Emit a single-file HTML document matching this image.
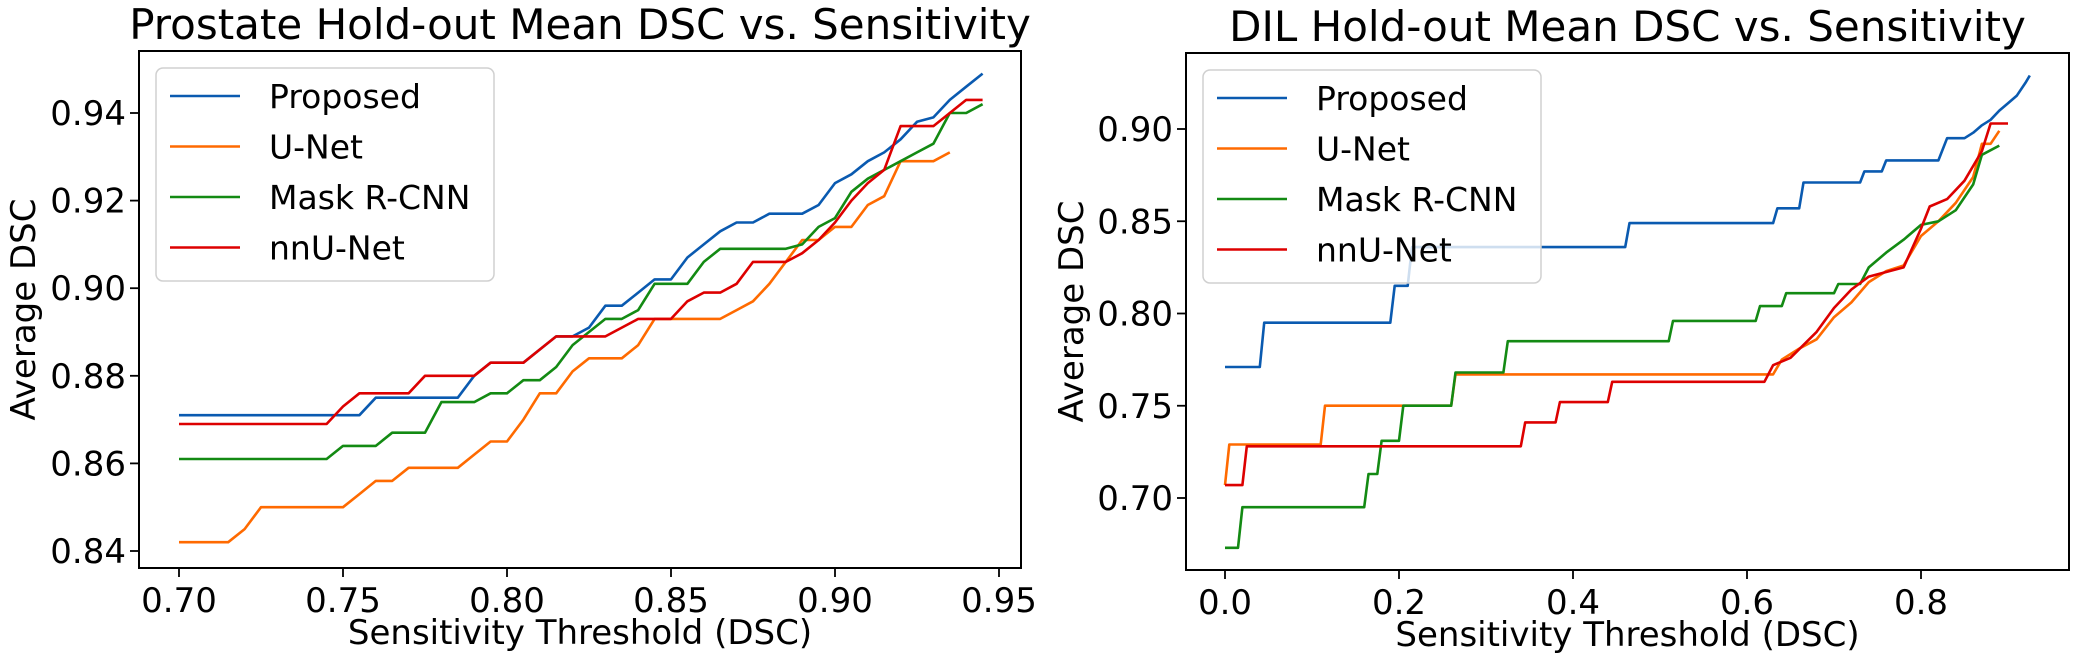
<!DOCTYPE html>
<html><head><meta charset="utf-8"><style>
html,body{margin:0;padding:0;background:#fff;}
svg{display:block;font-family:"DejaVu Sans","Liberation Sans",sans-serif;}
</style></head><body>
<svg id="c" width="2082" height="656" viewBox="0 0 2082 656"></svg>
<script>
// ---------- Left chart data ----------
const leftX = [];
for (let i = 0; i <= 49; i++) leftX.push(+(0.70 + i*0.005).toFixed(3));
const leftProposed = [0.871,0.871,0.871,0.871,0.871,0.871,0.871,0.871,0.871,0.871,0.871,0.871,0.875,0.875,0.875,0.875,0.875,0.875,0.880,0.883,0.883,0.883,0.886,0.889,0.889,0.891,0.896,0.896,0.899,0.902,0.902,0.907,0.910,0.913,0.915,0.915,0.917,0.917,0.917,0.919,0.924,0.926,0.929,0.931,0.934,0.938,0.939,0.943,0.946,0.949];
const leftUNet = [0.842,0.842,0.842,0.842,0.845,0.850,0.850,0.850,0.850,0.850,0.850,0.853,0.856,0.856,0.859,0.859,0.859,0.859,0.862,0.865,0.865,0.870,0.876,0.876,0.881,0.884,0.884,0.884,0.887,0.893,0.893,0.893,0.893,0.893,0.895,0.897,0.901,0.906,0.911,0.911,0.914,0.914,0.919,0.921,0.929,0.929,0.929,0.931];
const leftMask = [0.861,0.861,0.861,0.861,0.861,0.861,0.861,0.861,0.861,0.861,0.864,0.864,0.864,0.867,0.867,0.867,0.874,0.874,0.874,0.876,0.876,0.879,0.879,0.882,0.887,0.890,0.893,0.893,0.895,0.901,0.901,0.901,0.906,0.909,0.909,0.909,0.909,0.909,0.910,0.914,0.916,0.922,0.925,0.927,0.929,0.931,0.933,0.940,0.940,0.942];
const leftNN = [0.869,0.869,0.869,0.869,0.869,0.869,0.869,0.869,0.869,0.869,0.873,0.876,0.876,0.876,0.876,0.880,0.880,0.880,0.880,0.883,0.883,0.883,0.886,0.889,0.889,0.889,0.889,0.891,0.893,0.893,0.893,0.897,0.899,0.899,0.901,0.906,0.906,0.906,0.908,0.911,0.915,0.920,0.924,0.927,0.937,0.937,0.937,0.940,0.943,0.943];
const leftXTicks = [0.70,0.75,0.80,0.85,0.90,0.95];
const leftYTicks = [0.84,0.86,0.88,0.90,0.92,0.94];

// ---------- Right chart data ----------
const rProposedX = [0,0.04,0.045,0.19,0.195,0.21,0.215,0.46,0.465,0.63,0.635,0.66,0.665,0.73,0.735,0.755,0.76,0.82,0.83,0.85,0.86,0.87,0.88,0.89,0.9,0.91,0.92,0.925];
const rProposedY = [0.771,0.771,0.795,0.795,0.815,0.815,0.836,0.836,0.849,0.849,0.857,0.857,0.871,0.871,0.877,0.877,0.883,0.883,0.895,0.895,0.898,0.902,0.905,0.91,0.914,0.918,0.925,0.929];
const rUNetX = [0,0.005,0.11,0.115,0.26,0.265,0.63,0.64,0.66,0.68,0.7,0.72,0.74,0.76,0.78,0.8,0.82,0.84,0.86,0.87,0.88,0.89];
const rUNetY = [0.707,0.729,0.729,0.75,0.75,0.767,0.767,0.775,0.781,0.786,0.798,0.806,0.817,0.823,0.826,0.842,0.85,0.86,0.874,0.892,0.892,0.899];
const rMaskX = [0,0.015,0.02,0.16,0.165,0.175,0.18,0.2,0.205,0.26,0.265,0.32,0.325,0.51,0.515,0.61,0.615,0.64,0.645,0.7,0.705,0.73,0.74,0.76,0.78,0.8,0.82,0.84,0.86,0.87,0.89];
const rMaskY = [0.673,0.673,0.695,0.695,0.713,0.713,0.731,0.731,0.75,0.75,0.768,0.768,0.785,0.785,0.796,0.796,0.804,0.804,0.811,0.811,0.816,0.816,0.825,0.833,0.84,0.848,0.85,0.856,0.87,0.886,0.891];
const rNNX = [0,0.02,0.025,0.34,0.345,0.38,0.385,0.44,0.445,0.62,0.63,0.65,0.68,0.7,0.72,0.74,0.78,0.8,0.81,0.83,0.85,0.87,0.88,0.9];
const rNNY = [0.707,0.707,0.728,0.728,0.741,0.741,0.752,0.752,0.763,0.763,0.772,0.776,0.79,0.803,0.813,0.82,0.825,0.846,0.858,0.862,0.872,0.888,0.903,0.903];
const rightXTicks = [0.0,0.2,0.4,0.6,0.8];
const rightYTicks = [0.70,0.75,0.80,0.85,0.90];

const seriesNames = ["Proposed","U-Net","Mask R-CNN","nnU-Net"];
const colors = ["#0a5ab0","#ff6a00","#138a13","#dd0000"];

const NS="http://www.w3.org/2000/svg";
const svg=document.getElementById('c');
function mk(tag,attrs,parent){const e=document.createElementNS(NS,tag);for(const k in attrs)e.setAttribute(k,attrs[k]);(parent||svg).appendChild(e);return e;}

function drawPanel(cfg){
  const g=mk('g',{});
  
  
  const sx=v=>cfg.px0+(v-cfg.x0)*(cfg.px1-cfg.px0)/(cfg.x1-cfg.x0);
  const sy=v=>cfg.py0+(v-cfg.y0)*(cfg.py1-cfg.py0)/(cfg.y1-cfg.y0);
  const clip='clip-'+cfg.name;
  const cp=mk('clipPath',{id:clip},g);
  mk('rect',{x:cfg.L,y:cfg.T,width:cfg.R-cfg.L,height:cfg.B-cfg.T},cp);
  const lines=mk('g',{'clip-path':'url(#'+clip+')'},g);
  cfg.series.forEach((s,i)=>{
    const pts=s.x.map((xv,j)=>j<s.y.length?sx(xv).toFixed(1)+','+sy(s.y[j]).toFixed(1):null).filter(p=>p);
    const pl=mk('polyline',{points:pts.join(' '),fill:'none',stroke:colors[i],'stroke-width':2.6,'stroke-linejoin':'round'},lines);
    
    
  });
  const fr=mk('rect',{x:cfg.L,y:cfg.T,width:cfg.R-cfg.L,height:cfg.B-cfg.T,fill:'none',stroke:'#000','stroke-width':2},g);
  
  
  cfg.xt.forEach((t,i)=>{
    const x=sx(t);
    mk('line',{x1:x,y1:cfg.B,x2:x,y2:cfg.B+9,stroke:'#000','stroke-width':1.8},g);
    const tx=mk('text',{x:x,y:cfg.B+44,'font-size':34,'text-anchor':'middle'},g);
    tx.textContent=cfg.xl[i];
    
    
  });
  cfg.yt.forEach((t,i)=>{
    const y=sy(t);
    mk('line',{x1:cfg.L-9,y1:y,x2:cfg.L,y2:y,stroke:'#000','stroke-width':1.8},g);
    const tx=mk('text',{x:cfg.L-13,y:y+12,'font-size':34,'text-anchor':'end'},g);
    tx.textContent=t.toFixed(2);
    
    
  });
  const ti=mk('text',{x:(cfg.L+cfg.R)/2,y:cfg.T-12,'font-size':42,'text-anchor':'middle'},g);
  ti.textContent=cfg.title;
  
  
  const xa=mk('text',{x:(cfg.L+cfg.R)/2,y:cfg.B+76,'font-size':34,'text-anchor':'middle'},g);
  xa.textContent='Sensitivity Threshold (DSC)';
  
  
  const ya=mk('text',{x:0,y:0,'font-size':34,'text-anchor':'middle',transform:'translate('+cfg.yax+','+((cfg.T+cfg.B)/2)+') rotate(-90)'},g);
  ya.textContent='Average DSC';
  
  
  const lg=mk('g',{},g);
  
  
  mk('rect',{x:cfg.L+17,y:cfg.T+17,width:338,height:213,rx:7,fill:'rgba(255,255,255,0.8)',stroke:'#d0d0d0','stroke-width':1.5},lg);
  seriesNames.forEach((n,i)=>{
    const y=cfg.T+45+i*50.5;
    mk('line',{x1:cfg.L+31,y1:y,x2:cfg.L+101,y2:y,stroke:colors[i],'stroke-width':2.6},lg);
    const t=mk('text',{x:cfg.L+130,y:y+12,'font-size':33},lg);
    t.textContent=n;
    
    
  });
}

drawPanel({name:'prostate-chart',L:139,R:1021,T:51,B:568,x0:0.70,x1:0.95,px0:179,px1:999,y0:0.84,y1:0.94,py0:551,py1:113,
  xt:leftXTicks,xl:leftXTicks.map(v=>v.toFixed(2)),yt:leftYTicks,yax:35,
  title:'Prostate Hold-out Mean DSC vs. Sensitivity',
  series:[{x:leftX,y:leftProposed},{x:leftX,y:leftUNet},{x:leftX,y:leftMask},{x:leftX,y:leftNN}]});
drawPanel({name:'dil-chart',L:1186,R:2069,T:53,B:570,x0:0.0,x1:0.8,px0:1225,px1:1921,y0:0.70,y1:0.90,py0:498,py1:129,
  xt:rightXTicks,xl:rightXTicks.map(v=>v.toFixed(1)),yt:rightYTicks,yax:1083,
  title:'DIL Hold-out Mean DSC vs. Sensitivity',
  series:[{x:rProposedX,y:rProposedY},{x:rUNetX,y:rUNetY},{x:rMaskX,y:rMaskY},{x:rNNX,y:rNNY}]});
</script>
</body></html>
